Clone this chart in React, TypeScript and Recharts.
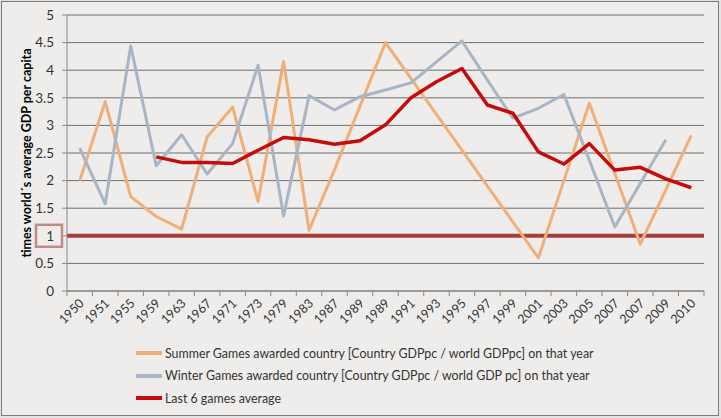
import { CartesianGrid, Line, LineChart, ReferenceLine, XAxis, YAxis } from 'recharts';

const years = [
  '1950', '1951', '1955', '1959', '1963', '1967', '1971', '1973', '1979', '1983', '1987', '1989', '1989',
  '1991', '1993', '1995', '1997', '1999', '2001', '2003', '2005', '2007', '2007', '2009', '2010',
];

const summer = [
  2.0, 3.43, 1.71, 1.35, 1.12, 2.79, 3.33, 1.62, 4.16, 1.1, 2.2, 3.35, 4.5,
  3.85, 3.2, 2.55, 1.9, 1.25, 0.6, 2.0, 3.4, 2.13, 0.85, 1.83, 2.82,
];

const winter = [
  2.59, 1.58, 4.44, 2.27, 2.83, 2.12, 2.67, 4.09, 1.36, 3.54, 3.28, 3.52, 3.64,
  3.77, 4.15, 4.53, 3.82, 3.13, 3.31, 3.56, 2.37, 1.16, 1.95, 2.74, null,
];

const lastSix = [
  null, null, null, 2.43, 2.33, 2.33, 2.31, 2.55, 2.78, 2.74, 2.66, 2.72, 3.01,
  3.5, 3.79, 4.03, 3.37, 3.22, 2.52, 2.3, 2.67, 2.19, 2.24, 2.03, 1.87,
];

const yTicks = [0, 0.5, 1, 1.5, 2, 2.5, 3, 3.5, 4, 4.5, 5];

const series = [
  { key: 'summer', color: '#f0ae78', width: 3, name: 'Summer Games awarded country [Country GDPpc / world GDPpc] on that year' },
  { key: 'winter', color: '#a8b5c5', width: 3, name: 'Winter Games awarded country [Country GDPpc / world GDP pc] on that year' },
  { key: 'lastSix', color: '#c60b0b', width: 3.5, name: 'Last 6 games average' },
];

const data = years.map((year, i) => ({
  idx: i,
  year,
  summer: summer[i],
  winter: winter[i],
  lastSix: lastSix[i],
}));

const FONT = 'Lato, "Open Sans", sans-serif';
const HALF_BAND = 637 / years.length / 2;

function XTick(props: any) {
  const { x, payload, index } = props;
  const axisY = 291;
  return (
    <g>
      <line x1={x - HALF_BAND} x2={x - HALF_BAND} y1={axisY} y2={axisY + 5} stroke="#888" />
      {index === years.length - 1 && (
        <line x1={x + HALF_BAND} x2={x + HALF_BAND} y1={axisY} y2={axisY + 5} stroke="#888" />
      )}
      <text
        x={x + 5}
        y={axisY + 13}
        textAnchor="end"
        fontSize={12.5}
        fontFamily={FONT}
        fill="#333"
        transform={`rotate(-45 ${x + 5} ${axisY + 13})`}
      >
        {years[payload.value]}
      </text>
    </g>
  );
}

function YTick(props: any) {
  const { y, payload } = props;
  return (
    <g>
      <line x1={62} x2={67} y1={y} y2={y} stroke="#888" />
      {payload.value === 1 && (
        <rect x={36} y={y - 11} width={26} height={22} fill="none" stroke="#c08a86" strokeWidth={2.5} />
      )}
      <text x={54} y={y} dy="0.36em" textAnchor="end" fontSize={13.5} fontFamily={FONT} fill="#333">
        {payload.value}
      </text>
    </g>
  );
}

function YLabel() {
  return (
    <text
      x={31}
      y={153}
      textAnchor="middle"
      fontSize={12.5}
      fontWeight="bold"
      fontFamily={FONT}
      fill="#000"
      transform="rotate(-90 31 153)"
    >
      times world´s average GDP per capita
    </text>
  );
}

export default function App() {
  return (
    <div style={{ position: 'absolute', left: 0, top: 0, width: 721, height: 418, background: '#e3e3e3' }}>
      <div
        style={{
          position: 'absolute',
          left: 1,
          top: 1,
          width: 716,
          height: 413,
          border: '1px solid #7d7d7d',
          background: '#eeedeb',
        }}
      />
      <div style={{ position: 'absolute', left: 0, top: 0 }}>
        <LineChart width={721} height={418} data={data} margin={{ top: 15, right: 17, left: 0, bottom: 0 }}>
          <CartesianGrid vertical={false} stroke="#6f6f6f" />
          <XAxis
            dataKey="idx"
            type="category"
            height={127}
            padding={{ left: HALF_BAND, right: HALF_BAND }}
            stroke="#888"
            tickLine={false}
            interval={0}
            tick={<XTick />}
          />
          <YAxis
            width={67}
            domain={[0, 5]}
            ticks={yTicks}
            stroke="#888"
            tickLine={false}
            interval={0}
            tick={<YTick />}
            label={<YLabel />}
          />
          <ReferenceLine y={1} stroke="#a3403b" strokeWidth={4} />
          {series.map((s) => (
            <Line
              key={s.key}
              dataKey={s.key}
              stroke={s.color}
              strokeWidth={s.width}
              dot={false}
              activeDot={false}
              isAnimationActive={false}
              strokeLinejoin="round"
            />
          ))}
        </LineChart>
      </div>
      <div style={{ position: 'absolute', left: 136, top: 342, fontFamily: FONT, fontSize: 12.4, color: '#333' }}>
        {series.map((s) => (
          <div key={s.key} style={{ display: 'flex', alignItems: 'center', height: 22.5, whiteSpace: 'nowrap' }}>
            <span style={{ display: 'inline-block', width: 26, height: 4, background: s.color, marginRight: 3 }} />
            <span>{s.name}</span>
          </div>
        ))}
      </div>
    </div>
  );
}
